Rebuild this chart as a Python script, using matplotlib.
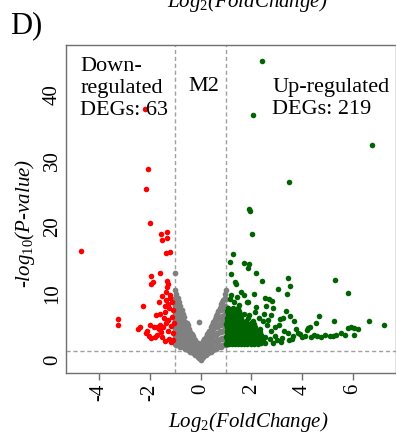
import numpy as np
import matplotlib.pyplot as plt

plt.rcParams['font.family'] = ['Liberation Serif', 'DejaVu Serif']
plt.rcParams['mathtext.fontset'] = 'custom'
plt.rcParams['mathtext.rm'] = 'Liberation Serif'
plt.rcParams['mathtext.it'] = 'Liberation Serif:italic'

# Puntos rojos (down-regulated, 63)
red_x = [-4.70, -2.20, -2.07, -2.13, -2.00, -1.54, -1.34, -1.34, -1.53, -1.37,
         -1.19, -1.58, -1.94, -1.88, -1.94, -1.32, -1.28, -1.34, -1.38, -2.28,
         -1.77, -1.58, -1.35, -1.20, -1.13, -1.40, -1.25, -1.30, -3.27, -3.24,
         -2.37, -2.15, -2.05, -1.95, -2.10, -1.85, -1.72, -1.60, -1.47, -1.35,
         -1.28, -1.18, -1.70, -1.50, -1.40, -1.25, -1.55, -1.10, -1.12, -1.45,
         -1.62, -1.80, -1.08, -1.15, -1.30, -1.40, -1.10, -2.45, -1.98, -1.65,
         -1.05, -1.22, -1.50]
red_y = [16.4, 37.7, 28.8, 25.7, 20.6, 19.0, 19.3, 18.4, 18.0, 16.1,
         16.2, 13.1, 12.6, 11.7, 11.4, 11.9, 11.4, 11.0, 10.3, 8.1,
         6.8, 7.0, 9.0, 9.3, 8.7, 8.2, 7.9, 8.5, 6.1, 5.2,
         5.0, 4.0, 3.6, 3.3, 4.4, 4.9, 4.9, 5.3, 4.9, 5.6,
         6.0, 5.1, 3.8, 3.5, 2.8, 3.1, 4.2, 4.0, 6.5, 6.3,
         4.6, 3.4, 3.0, 2.7, 4.3, 7.2, 7.6, 4.6, 5.2, 8.8,
         5.6, 9.8, 9.6]

# Puntos verdes (up-regulated, 219)
green_x = [2.42, 2.08, 6.75, 3.50, 1.91, 1.94, 2.04, 1.29, 1.16, 1.73,
           1.92, 1.88, 2.20, 1.21, 1.36, 1.38, 2.41, 3.45, 3.53, 3.07,
           3.40, 5.28, 5.82, 2.54, 2.70, 2.83, 2.58, 2.87, 1.82, 1.88,
           1.21, 1.16, 3.53, 3.23, 3.13, 2.77, 4.68, 4.55, 5.27, 6.65,
           7.22, 4.24, 4.19, 3.85, 3.93, 4.48, 4.74, 5.11, 5.20, 5.34,
           5.80, 5.93, 6.04, 6.19, 5.53, 5.69, 6.06, 3.10, 2.92, 3.43,
           3.49, 3.03, 2.77, 2.67, 1.91, 1.98,
           2.45, 2.60, 2.35, 2.55, 2.75, 2.95, 3.20, 3.30, 3.65, 3.75,
           4.00, 4.10, 4.35, 4.60, 4.90, 3.70, 3.35, 4.30, 2.85, 3.15,
           3.60, 2.40, 2.55, 2.25, 2.30, 2.15, 2.50, 2.20, 1.60, 1.45,
           1.70, 2.10, 1.30, 1.50,
           1.02, 1.12, 1.22, 1.34, 1.46, 1.58, 1.70, 1.84, 1.98, 2.12, 2.26,
           1.05, 1.16, 1.28, 1.40, 1.52, 1.64, 1.76, 1.90, 2.04, 2.18, 2.34,
           1.02, 1.12, 1.24, 1.36, 1.48, 1.60, 1.74, 1.88, 2.02, 2.16, 2.30,
           1.06, 1.18, 1.30, 1.42, 1.56, 1.68, 1.82, 1.96, 2.10, 2.24,
           1.03, 1.14, 1.26, 1.38, 1.50, 1.64, 1.78, 1.92, 2.06, 2.20,
           1.06, 1.18, 1.30, 1.44, 1.58, 1.72, 1.86, 2.02, 2.16,
           1.02, 1.14, 1.26, 1.40, 1.54, 1.68, 1.82, 2.12,
           1.06, 1.18, 1.32, 1.46, 1.62, 1.78, 2.05,
           1.03, 1.14, 1.28, 1.44, 1.60, 1.85,
           1.08, 1.22, 1.38, 1.55, 1.72,
           1.04, 1.18, 1.34, 1.52,
           1.10, 1.28, 1.46,
           1.08, 1.30, 1.52, 1.76, 2.00, 2.40,
           1.10, 1.34, 1.58, 1.82, 2.08, 2.45,
           1.08, 1.32, 1.56, 1.80, 2.05, 2.38,
           1.10, 1.34, 1.60, 1.86, 2.12, 2.35]
green_y = [45.0, 36.9, 32.3, 26.8, 22.7, 22.4, 18.9, 16.0, 14.7, 14.6,
           14.5, 13.9, 13.1, 13.0, 11.8, 11.4, 11.9, 12.3, 11.2, 10.7,
           10.0, 12.1, 10.1, 9.4, 9.2, 8.9, 8.1, 7.9, 8.8, 8.7,
           9.8, 9.2, 6.7, 6.4, 6.2, 6.8, 6.6, 5.6, 5.8, 5.9,
           5.2, 4.8, 4.5, 4.1, 3.9, 3.8, 3.5, 3.6, 3.6, 3.8,
           4.8, 4.9, 4.8, 4.6, 4.1, 3.8, 3.8, 5.3, 4.9, 4.0,
           3.0, 3.0, 4.3, 6.0, 6.8, 5.5,
           5.8, 5.2, 4.6, 3.4, 3.2, 3.6, 3.3, 4.4, 3.6, 4.6,
           3.4, 3.6, 3.4, 3.6, 3.7, 5.8, 7.4, 5.0, 2.6, 2.7,
           3.1, 2.8, 2.5, 3.0, 6.4, 7.2, 7.0, 8.0, 10.2, 9.5,
           9.8, 9.9, 8.7, 8.3,
           2.4, 2.4, 2.4, 2.4, 2.4, 2.4, 2.4, 2.4, 2.4, 2.4, 2.4,
           2.9, 2.9, 2.9, 2.9, 2.9, 2.9, 2.9, 2.9, 2.9, 2.9, 2.9,
           3.4, 3.4, 3.4, 3.4, 3.4, 3.4, 3.4, 3.4, 3.4, 3.4, 3.4,
           3.9, 3.9, 3.9, 3.9, 3.9, 3.9, 3.9, 3.9, 3.9, 3.9,
           4.4, 4.4, 4.4, 4.4, 4.4, 4.4, 4.4, 4.4, 4.4, 4.4,
           4.9, 4.9, 4.9, 4.9, 4.9, 4.9, 4.9, 4.9, 4.9,
           5.4, 5.4, 5.4, 5.4, 5.4, 5.4, 5.4, 5.4,
           5.9, 5.9, 5.9, 5.9, 5.9, 5.9, 5.9,
           6.4, 6.4, 6.4, 6.4, 6.4, 6.4,
           6.9, 6.9, 6.9, 6.9, 6.9,
           7.4, 7.4, 7.4, 7.4,
           7.9, 7.9, 7.9,
           2.6, 2.6, 2.6, 2.6, 2.6, 2.6,
           3.1, 3.1, 3.1, 3.1, 3.1, 3.1,
           3.7, 3.7, 3.7, 3.7, 3.7, 3.7,
           4.2, 4.2, 4.2, 4.2, 4.2, 4.2]

# Puntos grises (no significativos), por columnas de log2FC
gray_cols = [-1.00, -0.95, -0.90, -0.85, -0.80, -0.75, -0.70, -0.65, -0.60, -0.55,
             -0.50, -0.45, -0.40, -0.35, -0.30, -0.25, -0.20, -0.15, -0.10, -0.05,
             0.00, 0.05, 0.10, 0.15, 0.20, 0.25, 0.30, 0.35, 0.40, 0.45,
             0.50, 0.55, 0.60, 0.65, 0.70, 0.75, 0.80, 0.85, 0.90, 0.95, 1.00]
gray_vals = [[2.4, 3.5, 4.6, 5.8, 7.0, 8.2, 9.4, 10.5, 13.1],
             [2.3, 3.2, 4.2, 5.3, 6.4, 7.6, 8.8, 9.9],
             [2.2, 3.1, 4.1, 5.1, 6.2, 7.3, 8.4, 9.3],
             [2.4, 3.5, 4.6, 5.7, 6.8, 8.0, 8.8],
             [2.0, 2.9, 3.9, 4.9, 6.0, 7.1, 8.1],
             [2.2, 3.3, 4.4, 5.5, 6.6, 7.6],
             [1.9, 2.8, 3.8, 4.8, 5.8, 7.0],
             [2.1, 3.2, 4.3, 5.4, 6.5],
             [1.7, 2.6, 3.6, 4.6, 5.7],
             [1.9, 2.9, 3.9, 5.0, 5.6],
             [1.5, 2.4, 3.4, 4.4, 5.2],
             [1.6, 2.6, 3.6, 4.6],
             [1.2, 2.1, 3.1, 4.2],
             [1.4, 2.4, 3.4, 3.9],
             [1.0, 1.9, 2.9, 3.6],
             [1.1, 2.1, 3.2],
             [0.7, 1.6, 2.6, 3.0],
             [0.8, 1.8, 2.6],
             [0.4, 1.2, 2.1, 2.6],
             [0.3, 1.0, 1.9, 2.4, 5.7],
             [0.0, 0.8, 1.6, 2.3],
             [0.3, 1.1, 1.9, 2.5],
             [0.4, 1.3, 2.2, 2.8],
             [0.7, 1.6, 2.5, 3.2],
             [0.7, 1.7, 2.7, 3.5],
             [1.0, 2.0, 3.0, 3.9],
             [1.0, 2.0, 3.0, 4.1],
             [1.3, 2.3, 3.3, 4.4],
             [1.2, 2.2, 3.3, 4.4, 4.9],
             [1.5, 2.5, 3.6, 4.7, 5.3],
             [1.5, 2.5, 3.6, 4.7, 5.7],
             [1.8, 2.8, 3.9, 5.0, 6.1],
             [1.7, 2.7, 3.8, 4.9, 6.0, 6.6],
             [2.0, 3.0, 4.1, 5.2, 6.3, 7.0],
             [1.9, 2.9, 4.0, 5.1, 6.2, 7.4],
             [2.1, 3.2, 4.3, 5.4, 6.5, 7.8],
             [2.0, 3.1, 4.2, 5.3, 6.4, 7.5, 8.4],
             [2.2, 3.3, 4.4, 5.5, 6.6, 7.7, 8.7],
             [2.2, 3.2, 4.3, 5.4, 6.6, 7.8, 9.1],
             [2.4, 3.5, 4.6, 5.8, 7.0, 8.2, 9.4, 10.0],
             [2.3, 3.4, 4.5, 5.7, 6.9, 8.0, 9.2, 10.5]]
gray_x = [c for c, vals in zip(gray_cols, gray_vals) for _ in vals]
gray_y = [v for vals in gray_vals for v in vals]

fc_cut = 1.0
p_cut = -np.log10(0.05)
x_ticks = [-4, -2, 0, 2, 4, 6]
y_ticks = [0, 10, 20, 30, 40]

fig = plt.figure(figsize=(3.96, 4.34), dpi=100)
ax = fig.add_axes([66 / 396, 1 - 373 / 434, 330 / 396, 328 / 434])

ax.scatter(gray_x, gray_y, s=17, color="#808080", linewidths=0, zorder=2)
ax.scatter(red_x, red_y, s=16, color="#ff0000", linewidths=0, zorder=3)
ax.scatter(green_x, green_y, s=16, color="#006400", linewidths=0, zorder=3)

ax.axvline(-fc_cut, color="#a0a0a0", linestyle="--", linewidth=1, dashes=(3, 2), zorder=1)
ax.axvline(fc_cut, color="#a0a0a0", linestyle="--", linewidth=1, dashes=(3, 2), zorder=1)
ax.axhline(p_cut, color="#a0a0a0", linestyle="--", linewidth=1, dashes=(3, 2), zorder=1)

ax.set_xlim(-5.30, 7.70)
ax.set_ylim(-1.95, 47.4)
ax.set_xticks(x_ticks)
ax.set_yticks(y_ticks)
ax.set_xticklabels([str(t) for t in x_ticks], rotation=90, fontsize=15)
ax.set_yticklabels([str(t) for t in y_ticks], rotation=90, va="center", fontsize=15)
ax.tick_params(axis="x", length=5, width=1, color="#707070", pad=3)
ax.tick_params(axis="y", length=0, pad=3)
for s in ax.spines.values():
    s.set_color("#707070")
    s.set_linewidth(1)

ax.text(-4.74, 45.6, "Down-\nregulated\nDEGs: 63", fontsize=16, va="top", ha="left")
ax.text(-0.49, 42.6, "M2", fontsize=16, va="top", ha="left")
ax.text(2.82, 42.4, "Up-regulated\nDEGs: 219", fontsize=16, va="top", ha="left")

x_title = r"Log$_{\mathit{2}}$(FoldChange)"
y_title = r"-log$_{\mathit{10}}$(P-value)"
fig.text(248 / 396, 1 - 427 / 434, x_title, fontsize=15, style="italic",
         ha="center", va="baseline")
fig.text(25 / 396, 1 - 223 / 434, y_title, fontsize=15, style="italic",
         ha="center", va="center", rotation=90)
fig.text(247 / 396, 1 - 7 / 434, x_title, fontsize=15, style="italic",
         ha="center", va="baseline")
fig.text(10 / 396, 1 - 33 / 434, "D)", fontsize=22, ha="left", va="baseline")

fig.savefig("out.png", dpi=100)
